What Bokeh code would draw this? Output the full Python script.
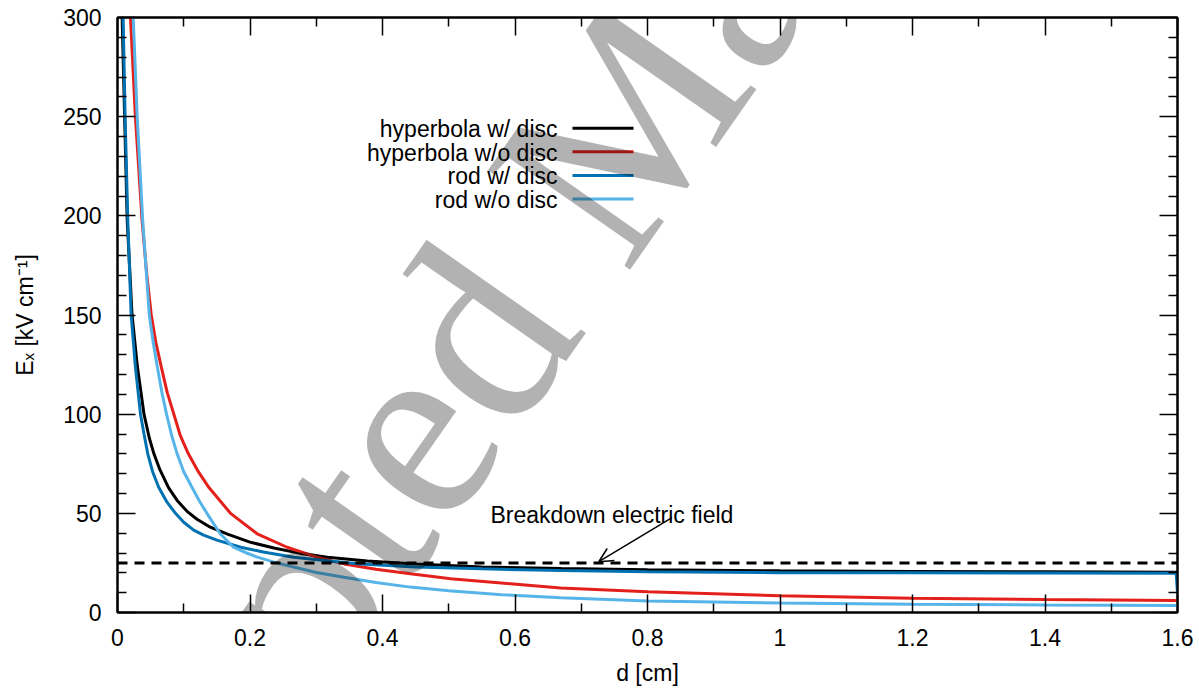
import json
from bokeh.plotting import figure
from bokeh.models import (Range1d, LinearAxis, FixedTicker, CustomJSTickFormatter,
                          Label, Arrow, OpenHead, Span)
from bokeh.embed import file_html
from bokeh.resources import INLINE

# ---------------- data ----------------
series_names = ["hyperbola w/ disc", "hyperbola w/o disc", "rod w/ disc", "rod w/o disc"]
series_colors = ["#000000", "#e3201b", "#0072b2", "#56b4e9"]

hyp_disc_x = [0.007, 0.0146, 0.022, 0.030, 0.040, 0.048, 0.055, 0.064, 0.077, 0.090, 0.105,
              0.120, 0.140, 0.166, 0.200, 0.236, 0.276, 0.317, 0.377, 0.45, 0.55, 0.67,
              0.8, 1.0, 1.2, 1.4, 1.6]
hyp_disc_y = [300, 198, 150, 124, 100, 88, 80, 72, 63, 56.5, 51,
              47, 43, 39.5, 35.5, 32.5, 29.8, 27.9, 26, 24.5, 23, 22.2,
              21.6, 21, 20.7, 20.5, 20.3]

hyp_nodisc_x = [0.0196, 0.027, 0.037, 0.044, 0.051, 0.058, 0.066, 0.075, 0.085, 0.095, 0.107,
                0.122, 0.138, 0.1706, 0.2109, 0.256, 0.301, 0.342, 0.39, 0.442, 0.503,
                0.593, 0.669, 0.8, 1.0, 1.2, 1.4, 1.6]
hyp_nodisc_y = [300, 250, 198, 171, 150, 136, 124, 111, 100, 89, 80,
                71, 63, 50, 39.7, 32.9, 27.9, 24.5, 21.8, 19.5, 17,
                14.5, 12.4, 10.4, 8.4, 7.2, 6.5, 6.0]

rod_disc_x = [0.0085, 0.0115, 0.0155, 0.0206, 0.027, 0.0347, 0.040, 0.0457, 0.053, 0.0623,
              0.075, 0.0875, 0.100, 0.115, 0.130, 0.150, 0.186, 0.22, 0.266, 0.32, 0.367,
              0.45, 0.55, 0.67, 0.8, 1.0, 1.2, 1.4, 1.598, 1.6]
rod_disc_y = [300, 250, 198, 150, 124, 100, 90, 80, 71, 63,
              55.5, 50, 45.5, 41.5, 39, 36.5, 32.9, 30.5, 27.9, 26, 24.5,
              23, 22, 21.2, 20.5, 20.1, 20, 19.9, 19.8, 10]

rod_nodisc_x = [0.0237, 0.0297, 0.038, 0.048, 0.054, 0.060, 0.067, 0.074, 0.082, 0.090,
                0.100, 0.1126, 0.124, 0.135, 0.155, 0.175, 0.195, 0.211, 0.235, 0.266,
                0.30, 0.342, 0.39, 0.442, 0.5, 0.58, 0.669, 0.8, 1.0, 1.2, 1.4, 1.6]
rod_nodisc_y = [300, 250, 198, 150, 136, 124, 111, 100, 89, 80,
                71, 63, 56, 50, 39.7, 32.9, 30.0, 27.9, 25.5, 22.9,
                20.2, 17.8, 15.1, 12.8, 11, 9, 7.4, 5.8, 4.8, 4.2, 3.8, 3.5]

breakdown_field = 25.0
arrow_tail = (0.837, 47.8)
arrow_head = (0.7265, 25.6)

x_ticks = [0.0, 0.2, 0.4, 0.6, 0.8, 1.0, 1.2, 1.4, 1.6]
x_tick_labels = ["0", "0.2", "0.4", "0.6", "0.8", "1", "1.2", "1.4", "1.6"]
x_minor = [0.1, 0.3, 0.5, 0.7, 0.9, 1.1, 1.3, 1.5]
y_ticks = [0, 50, 100, 150, 200, 250, 300]
y_minor = [v for v in range(10, 300, 10) if v % 50 != 0]

x_title = "d [cm]"
y_title = "E\u2093 [kV cm\u207b\u00b9]"

# ---------------- layout helpers (page pixel -> data) ----------------
W, H = 1199, 688
FL, FR, FT, FB = 117, 1177, 17, 612
X0, X1, Y0, Y1 = 0.0, 1.6, 0.0, 300.0


def sx(px):
    return X0 + (px - FL) * (X1 - X0) / (FR - FL)


def sy(py):
    return Y0 + (FB - py) * (Y1 - Y0) / (FB - FT)


FONT = "Liberation Sans"
FS = "23px"

p = figure(width=W, height=H, x_range=Range1d(X0, X1), y_range=Range1d(Y0, Y1),
           output_backend="svg", toolbar_location=None,
           min_border_left=FL, min_border_right=W - FR,
           min_border_top=FT, min_border_bottom=H - FB)
p.xgrid.visible = False
p.ygrid.visible = False
p.outline_line_color = "black"
p.outline_line_width = 2
p.background_fill_color = "white"
p.border_fill_color = "white"

lab_map = {f"{t:.1f}": l for t, l in zip(x_ticks, x_tick_labels)}
xfmt = CustomJSTickFormatter(code="const m = %s; const k = tick.toFixed(1); return (k in m) ? m[k] : k;" % json.dumps(lab_map))
blank = CustomJSTickFormatter(code="return '';")


def style_axis(ax):
    ax.axis_line_width = 2
    ax.major_tick_in = 18
    ax.major_tick_out = 0
    ax.minor_tick_in = 9
    ax.minor_tick_out = 0
    ax.major_tick_line_width = 1.5
    ax.minor_tick_line_width = 1.5
    ax.major_label_text_font = FONT
    ax.major_label_text_font_size = FS
    ax.major_label_text_color = "black"
    ax.axis_label_text_font = FONT
    ax.axis_label_text_font_size = FS
    ax.axis_label_text_font_style = "normal"
    ax.axis_label_text_color = "black"


xt = FixedTicker(ticks=x_ticks, minor_ticks=x_minor)
yt = FixedTicker(ticks=y_ticks, minor_ticks=y_minor)

p.xaxis.ticker = xt
p.xaxis.formatter = xfmt
p.yaxis.ticker = yt
style_axis(p.xaxis[0])
style_axis(p.yaxis[0])
p.xaxis.major_label_standoff = 16
p.yaxis.major_label_standoff = 16
p.xaxis.axis_label = x_title
p.xaxis.axis_label_standoff = 11
p.yaxis.axis_label = y_title
p.yaxis.axis_label_standoff = 22

top = LinearAxis(ticker=xt, formatter=blank, major_label_standoff=0)
right = LinearAxis(ticker=yt, formatter=blank, major_label_standoff=0)
style_axis(top)
style_axis(right)
p.add_layout(top, "above")
p.add_layout(right, "right")

# breakdown line
p.add_layout(Span(location=breakdown_field, dimension="width", line_color="black",
                  line_width=3, line_dash="10 7"))

# curves
for xs, ys, c in [(hyp_disc_x, hyp_disc_y, series_colors[0]),
                  (hyp_nodisc_x, hyp_nodisc_y, series_colors[1]),
                  (rod_disc_x, rod_disc_y, series_colors[2]),
                  (rod_nodisc_x, rod_nodisc_y, series_colors[3])]:
    p.line(xs, ys, line_color=c, line_width=3)

# legend (gnuplot-style, text right aligned, sample on the right)
row_py = [127.7, 151.3, 174.9, 198.5]
for name, c, py in zip(series_names, series_colors, row_py):
    p.add_layout(Label(x=sx(557), y=sy(py + 1), text=name, text_align="right",
                       text_baseline="middle", text_font=FONT, text_font_size=FS,
                       text_color="black"))
    p.segment(x0=[sx(572)], x1=[sx(633)], y0=[sy(py)], y1=[sy(py)],
              line_color=c, line_width=3)

# annotation
p.add_layout(Label(x=sx(490), y=sy(514), text="Breakdown electric field",
                   text_align="left", text_baseline="alphabetic",
                   text_font=FONT, text_font_size=FS, text_color="black"))
p.add_layout(Arrow(x_start=arrow_tail[0], y_start=arrow_tail[1],
                   x_end=arrow_head[0], y_end=arrow_head[1],
                   line_width=1.5, line_color="black",
                   end=OpenHead(size=14, line_width=1.5, line_color="black")))

# watermark
p.add_layout(Label(x=sx(-60), y=sy(1098), text="Accepted Manuscript", angle=55,
                   angle_units="deg", text_align="left", text_baseline="alphabetic",
                   text_font="Liberation Serif", text_font_size="265px",
                   text_color="black", text_alpha=0.3))

open("out.html", "w").write(file_html(p, INLINE))
